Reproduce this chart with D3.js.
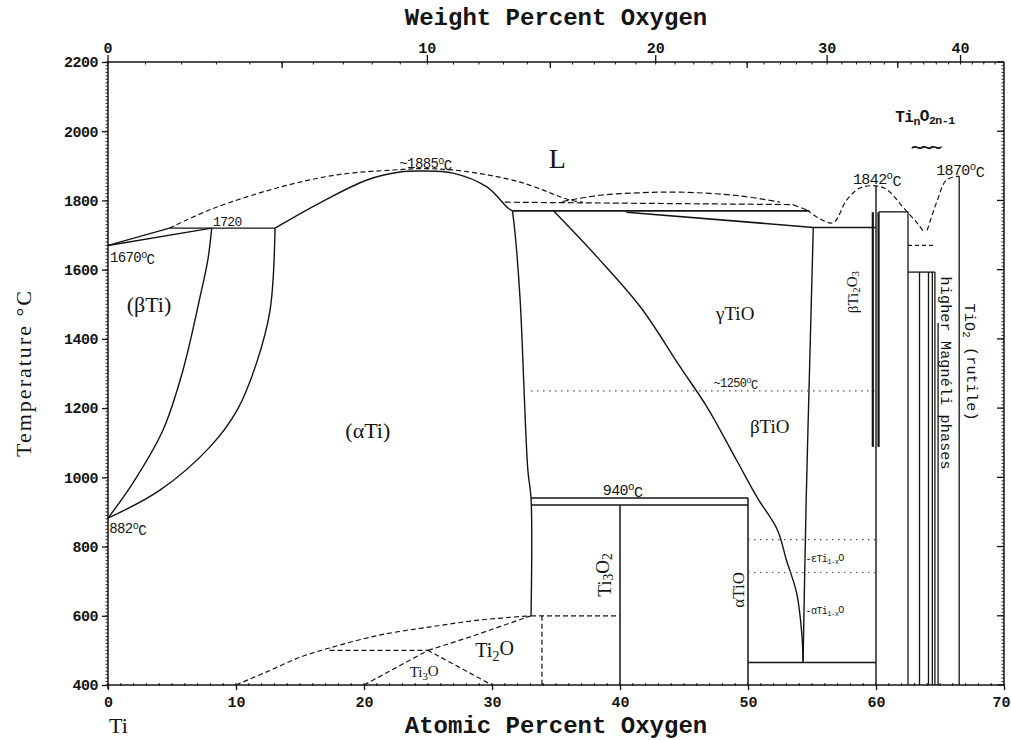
<!DOCTYPE html>
<html>
<head>
<meta charset="utf-8">
<script src="https://cdn.jsdelivr.net/npm/d3@7"></script>
<style>
  html, body { margin: 0; background: #fff; }
  svg { display: block; }
</style>
</head>
<body>
<svg id="chart" width="1011" height="740"></svg>
<script>
// ---- axis tick values ----
const atomicTicks = [0, 10, 20, 30, 40, 50, 60, 70];
const weightTicks = [0, 10, 20, 30, 40];
const tempTicks = [400, 600, 800, 1000, 1200, 1400, 1600, 1800, 2000, 2200];

// ---- phase boundaries, points are [atomic % O, temperature °C] ----
// Ti-rich side
const betaTransus   = [[0, 882], [1.95, 984], [4.3, 1137], [5.86, 1310], [7.19, 1521], [7.8, 1628], [8.1, 1720]];
const alphaTransus  = [[0, 882], [4.06, 963], [7.97, 1088], [10.1, 1195], [11.6, 1330], [12.66, 1483], [13.05, 1720]];
const betaSolidus   = [[0, 1670], [8.1, 1720]];
const betaLiquidus  = [[0, 1670], [4.8, 1720]];
const peritectic1720 = [[4.8, 1720], [13.05, 1720]];
const alphaSolidus  = [[13.05, 1720], [16.56, 1793], [20.23, 1859], [22.8, 1882], [24.6, 1885], [26.95, 1879], [29.6, 1839], [31.25, 1778], [31.6, 1770]];
const alphaSolvus   = [[31.6, 1770], [31.8, 1706], [32.2, 1512], [32.8, 1021], [33.05, 940], [33.05, 600]];
const alphaLiquidus = [[4.8, 1720], [8.1, 1775], [13.2, 1836], [17.9, 1874], [22.3, 1888], [24.8, 1892], [27.7, 1885], [32.2, 1853], [36.1, 1801], [37.1, 1795]];

// TiO region
const monotectic     = [[31.0, 1795], [53.5, 1788], [54.7, 1771]];
const liquidDome     = [[35.5, 1797], [38.4, 1815], [41.5, 1822], [44.7, 1824], [49.4, 1813], [52.5, 1795]];
const tie1770        = [[31.6, 1770], [54.8, 1770]];
const gammaLiquid    = [[40.5, 1766], [55.1, 1722]];
const tie1722        = [[55.1, 1722], [60, 1722]];
const gammaTiORight  = [[55.1, 1722], [54.8, 1300], [54.55, 940], [54.3, 465]];
const gammaTiOLeft   = [[34.8, 1770], [38.2, 1637], [41.6, 1492], [44.7, 1319], [46.8, 1203], [49.1, 1050], [50.7, 943], [52.3, 848], [53.0, 761], [53.8, 666], [54.2, 550], [54.3, 470]];
const eutectoid940   = [[33.05, 940], [50, 940]];
const eutectoid920   = [[33.05, 920], [50, 920]];
const ti3o2Line      = [[40, 920], [40, 400]];
const alphaTiOLine   = [[50, 940], [50, 400]];
const bottom465      = [[50, 465], [60, 465]];

// low temperature suboxides (dashed)
const line600        = [[33.05, 600], [40, 600]];
const ti2oRight      = [[33.9, 600], [33.9, 400]];
const ti2oLeftCurve  = [[10, 400], [12.4, 438], [15, 480], [17.3, 507], [21.2, 544], [25.2, 568], [29.1, 588], [33.05, 600]];
const ti2oInner      = [[25, 500], [28.3, 539], [33.05, 600]];
const ti3oTop        = [[17.3, 500], [25, 500]];
const ti3oTriangle   = [[20, 400], [25, 500], [30, 400]];

// dotted transitions
const dotted1250     = [[33.05, 1250], [60, 1250]];
const dotted820      = [[50, 820], [60, 820]];
const dotted725      = [[50, 725], [60, 725]];

// O-rich side
const ti2o3Line      = [[60, 1842], [60, 400]];
const ti2o3Left      = [[59.75, 1766], [59.75, 1088]];
const ti2o3Right     = [[60.2, 1766], [60.2, 1088]];
const tie1767        = [[60.2, 1767], [62.5, 1767]];
const ti3o5Line      = [[62.5, 1767], [62.5, 400]];
const magneliTop     = [[62.5, 1593], [64.6, 1593]];
const magneliPhases  = [63.4, 64.1, 64.4, 64.6];
const magneliHigh    = [[64.85, 1446], [64.85, 400]];
const rutileLine     = [[66.5, 1870], [66.5, 400]];
const ti2o3Liquidus  = [[54.6, 1772], [56.6, 1735], [57.7, 1801], [58.75, 1836], [60, 1842], [60.9, 1830], [62.1, 1781], [63.2, 1735], [63.8, 1706]];
const eutectic1670   = [[62.5, 1670], [64.5, 1670]];
const rutileLiquidus = [[64.0, 1714], [64.8, 1801], [65.5, 1859], [66.5, 1870]];

// ---- annotations: [at.% O, °C, text, size, anchor] ----
const monoLabels = [
  [8.2, 1726, "1720", 13, "start"],
  [0.15, 1622, "1670^{o}C", 14, "start"],
  [0.1, 839, "882^{o}C", 14, "start"],
  [24.8, 1893, "~1885^{o}C", 14, "middle"],
  [47.3, 1261, "~1250^{o}C", 12, "start"],
  [40.2, 949, "940^{o}C", 15, "middle"],
  [58.2, 1847, "1842^{o}C", 15, "start"],
  [64.7, 1873, "1870^{o}C", 15, "start"],
  [54.5, 755, "-εTi_{1-x}O", 10, "start"],
  [54.5, 605, "-αTi_{1-x}O", 10, "start"]
];
const phaseLabels = [
  [3.2, 1478, "(βTi)", 22],
  [20.3, 1114, "(αTi)", 22],
  [35.1, 1894, "L", 28],
  [49.0, 1455, "γTiO", 19],
  [51.7, 1128, "βTiO", 19],
  [30.2, 481, "Ti_{2}O", 20],
  [24.7, 423, "Ti_{3}O", 15]
];
const verticalLabels = [
  [38.75, 718, "Ti_{3}O_{2}", 19, -90, "Liberation Serif"],
  [49.2, 675, "αTiO", 17, -90, "Liberation Serif"],
  [58.2, 1535, "βTi_{2}O_{3}", 15, -90, "Liberation Serif"],
  [65.4, 1301, "higher Magnéli phases", 15, 90, "Liberation Mono"],
  [67.3, 1333, "TiO_{2} (rutile)", 15, 90, "Liberation Mono"]
];

// ---- scales ----
const svg = d3.select("#chart");
const x = d3.scaleLinear().domain([0, 70]).range([108, 1004]);
const y = d3.scaleLinear().domain([400, 2200]).range([685, 62]);
const MO = 15.999, MTi = 47.867;
const wtToAt = w => 100 * (w / MO) / (w / MO + (100 - w) / MTi);

const ink = "#141414";
const lineFn = d3.line().x(d => x(d[0])).y(d => y(d[1]));
const smoothFn = d3.line().x(d => x(d[0])).y(d => y(d[1])).curve(d3.curveCatmullRom.alpha(0.5));

function path(pts, o = {}) {
  svg.append("path")
    .attr("d", (o.smooth ? smoothFn : lineFn)(pts))
    .attr("fill", "none")
    .attr("stroke", o.color || ink)
    .attr("stroke-width", o.w || 1.4)
    .attr("stroke-dasharray", o.dash || null)
    .attr("stroke-linejoin", "round");
}

// rich text: _{..} subscript, ^{..} superscript
function rich(sel, str) {
  const tokens = str.match(/(_\{[^}]*\}|\^\{[^}]*\}|[^_^]+)/g);
  let shift = 0;
  tokens.forEach(tok => {
    let target = 0, txt = tok, small = false;
    if (tok.startsWith("_{")) { target = 0.3; txt = tok.slice(2, -1); small = true; }
    else if (tok.startsWith("^{")) { target = -0.45; txt = tok.slice(2, -1); small = true; }
    const ts = sel.append("tspan").text(txt);
    if (target !== shift) { ts.attr("dy", (target - shift) + "em"); shift = target; }
    if (small) ts.attr("font-size", "72%");
  });
}

// ---- frame and axes ----
const axisFont = "Liberation Mono";
const frame = svg.append("g");
frame.append("line").attr("x1", x(0)).attr("x2", x(70)).attr("y1", y(400)).attr("y2", y(400)).attr("stroke", ink).attr("stroke-width", 1.5);
frame.append("line").attr("x1", x(0)).attr("x2", x(70)).attr("y1", y(2200)).attr("y2", y(2200)).attr("stroke", ink).attr("stroke-width", 1.5);
frame.append("line").attr("x1", x(0)).attr("x2", x(0)).attr("y1", y(2200)).attr("y2", y(400) + 4).attr("stroke", ink).attr("stroke-width", 1.5);
frame.append("line").attr("x1", x(70)).attr("x2", x(70)).attr("y1", y(2200)).attr("y2", y(400)).attr("stroke", ink).attr("stroke-width", 1.5);

// bottom: atomic percent
const bottom = d3.axisBottom(x).tickValues(atomicTicks).tickSize(5).tickPadding(6).tickFormat(d3.format("d"));
const gb = svg.append("g").attr("transform", `translate(0,${y(400)})`).call(bottom);
gb.select(".domain").remove();
gb.selectAll(".tick text").filter(d => d === 70).attr("dx", -3);
svg.append("g").selectAll("line").data(d3.range(0, 71, 1)).join("line")
  .attr("x1", d => x(d)).attr("x2", d => x(d)).attr("y1", y(400) - 2).attr("y2", y(400) + 1)
  .attr("stroke", ink).attr("stroke-width", 1);

// left: temperature
const left = d3.axisLeft(y).tickValues(tempTicks).tickSize(6).tickPadding(4).tickFormat(d3.format("d"));
const gl = svg.append("g").attr("transform", `translate(${x(0)},0)`).call(left);
gl.select(".domain").remove();
svg.append("g").selectAll("line").data(d3.range(400, 2201, 10)).join("line")
  .attr("x1", x(0) - 2.5).attr("x2", x(0)).attr("y1", d => y(d)).attr("y2", d => y(d))
  .attr("stroke", ink).attr("stroke-width", 0.9);

// right: inward ticks
svg.append("g").selectAll("line").data(tempTicks).join("line")
  .attr("x1", x(70) - 7).attr("x2", x(70)).attr("y1", d => y(d)).attr("y2", d => y(d))
  .attr("stroke", ink).attr("stroke-width", 1.3);
svg.append("g").selectAll("line").data(d3.range(400, 2201, 10)).join("line")
  .attr("x1", x(70) - 2.5).attr("x2", x(70)).attr("y1", d => y(d)).attr("y2", d => y(d))
  .attr("stroke", ink).attr("stroke-width", 0.9);

// top: weight percent
const topAxis = svg.append("g");
topAxis.selectAll("line.maj").data(weightTicks).join("line")
  .attr("x1", d => x(wtToAt(d))).attr("x2", d => x(wtToAt(d)))
  .attr("y1", y(2200) - 7).attr("y2", y(2200)).attr("stroke", ink).attr("stroke-width", 1.3);
topAxis.selectAll("line.mid").data([5, 15, 25, 35]).join("line")
  .attr("x1", d => x(wtToAt(d))).attr("x2", d => x(wtToAt(d)))
  .attr("y1", y(2200)).attr("y2", y(2200) + 6).attr("stroke", ink).attr("stroke-width", 1.3);
topAxis.selectAll("line.min").data(d3.range(0, 44, 1)).join("line")
  .attr("x1", d => x(wtToAt(d))).attr("x2", d => x(wtToAt(d)))
  .attr("y1", y(2200)).attr("y2", y(2200) + 2.5).attr("stroke", ink).attr("stroke-width", 1);
topAxis.selectAll("text").data(weightTicks).join("text")
  .attr("x", d => x(wtToAt(d))).attr("y", 53)
  .attr("text-anchor", "middle").attr("font-family", axisFont).attr("font-weight", "bold")
  .attr("font-size", 15).attr("fill", ink).text(d => d);

svg.selectAll(".tick text").attr("font-family", axisFont).attr("font-weight", "bold").attr("fill", ink);
gb.selectAll(".tick text").attr("font-size", 15);
gl.selectAll(".tick text").attr("font-size", 15).attr("letter-spacing", "-0.5");
svg.selectAll(".tick line").attr("stroke", ink).attr("stroke-width", 1.3);

// axis titles
svg.append("text").attr("x", 556).attr("y", 25).attr("text-anchor", "middle")
  .attr("font-family", axisFont).attr("font-weight", "bold").attr("font-size", 24).attr("fill", ink)
  .text("Weight Percent Oxygen");
svg.append("text").attr("x", 556).attr("y", 733).attr("text-anchor", "middle")
  .attr("font-family", axisFont).attr("font-weight", "bold").attr("font-size", 24).attr("fill", ink)
  .text("Atomic Percent Oxygen");
svg.append("text").attr("x", 109).attr("y", 733)
  .attr("font-family", "Liberation Serif").attr("font-size", 22).attr("fill", ink).text("Ti");
svg.append("text").attr("transform", "translate(31,373) rotate(-90)").attr("text-anchor", "middle")
  .attr("font-family", "Liberation Serif").attr("font-size", 22).attr("letter-spacing", "2").attr("fill", ink)
  .text("Temperature °C");

// ---- phase boundaries ----
[betaTransus, alphaTransus].forEach(p => path(p, { smooth: true }));
[betaSolidus, betaLiquidus, peritectic1720].forEach(p => path(p));
path(alphaSolidus, { smooth: true });
path(alphaSolvus, { smooth: true });
path(alphaLiquidus, { smooth: true, dash: "5,3", w: 1.2 });

path(monotectic, { dash: "6,3", w: 1.2 });
path(liquidDome, { smooth: true, dash: "6,3", w: 1.2 });
[tie1770, gammaLiquid, tie1722].forEach(p => path(p, { w: 1.6 }));
path(gammaTiORight, { smooth: true });
path(gammaTiOLeft, { smooth: true });
[eutectoid940, eutectoid920, ti3o2Line, alphaTiOLine, bottom465].forEach(p => path(p, { w: 1.5 }));

[line600, ti2oRight, ti3oTop, ti3oTriangle, ti2oInner].forEach(p => path(p, { dash: "5,3", w: 1.2 }));
path(ti2oLeftCurve, { smooth: true, dash: "5,3", w: 1.2 });

[dotted1250, dotted820, dotted725].forEach(p => path(p, { dash: "1.5,4.5", w: 1.2, color: "#555" }));

path(ti2o3Line, { w: 1.4 });
path(ti2o3Left, { w: 2.2 });
path(ti2o3Right, { w: 2.2 });
[tie1767, ti3o5Line, magneliTop, magneliHigh, rutileLine].forEach(p => path(p, { w: 1.3 }));
magneliPhases.forEach(v => path([[v, 1593], [v, 400]], { w: 1.3 }));
path(ti2o3Liquidus, { smooth: true, dash: "5,3", w: 1.2 });
path(eutectic1670, { dash: "4,3", w: 1.2 });
path(rutileLiquidus, { smooth: true, dash: "5,3", w: 1.2 });

// ---- labels ----
monoLabels.forEach(([a, t, s, size, anchor]) => {
  const el = svg.append("text").attr("x", x(a)).attr("y", y(t))
    .attr("font-family", "Liberation Mono").attr("font-size", size).attr("letter-spacing", "-0.6")
    .attr("text-anchor", anchor).attr("fill", ink);
  rich(el, s);
});
phaseLabels.forEach(([a, t, s, size]) => {
  const el = svg.append("text").attr("x", x(a)).attr("y", y(t))
    .attr("font-family", "Liberation Serif").attr("font-size", size)
    .attr("text-anchor", "middle").attr("fill", ink);
  rich(el, s);
});
verticalLabels.forEach(([a, t, s, size, rot, font]) => {
  const el = svg.append("text")
    .attr("transform", `translate(${x(a)},${y(t)}) rotate(${rot})`)
    .attr("dominant-baseline", "central")
    .attr("font-family", font).attr("font-size", size).attr("letter-spacing", font === "Liberation Mono" ? "0.2" : "0")
    .attr("text-anchor", "middle").attr("fill", ink);
  rich(el, s);
});

// Magnéli series heading with brace
const mag = svg.append("text").attr("x", x(61.5)).attr("y", y(2027))
  .attr("font-family", "Liberation Mono").attr("font-weight", "bold").attr("font-size", 16)
  .attr("letter-spacing", "-0.5").attr("fill", ink);
rich(mag, "Ti_{n}O_{2n-1}");
svg.append("text").attr("x", x(63.8)).attr("y", y(1951) + 6).attr("text-anchor", "middle")
  .attr("font-family", "DejaVu Sans Mono").attr("font-size", 22).attr("letter-spacing", "-4")
  .attr("fill", ink).text("~~~");
</script>
</body>
</html>
